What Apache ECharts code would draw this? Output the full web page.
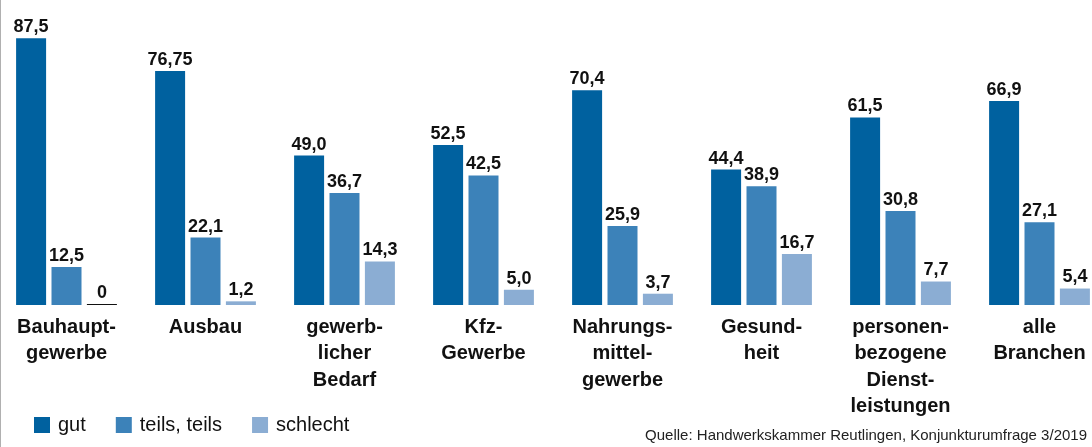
<!DOCTYPE html>
<html lang="de" style="height: 100%">
<head>
    <meta charset="utf-8">
    <title>Geschäftslage nach Branchen</title>
</head>
<body style="height: 100%; margin: 0; background: #fff">
    <div id="container" style="width:1092px;height:447px"></div>
    <script src="https://cdn.jsdelivr.net/npm/echarts@6/dist/echarts.min.js"></script>
    <script>
        // Daten
        var branchen = ['Bauhaupt-\ngewerbe', 'Ausbau', 'gewerb-\nlicher\nBedarf', 'Kfz-\nGewerbe',
            'Nahrungs-\nmittel-\ngewerbe', 'Gesund-\nheit', 'personen-\nbezogene\nDienst-\nleistungen', 'alle\nBranchen'];
        var gut = [87.5, 76.75, 49.0, 52.5, 70.4, 44.4, 61.5, 66.9];
        var teils = [12.5, 22.1, 36.7, 42.5, 25.9, 38.9, 30.8, 27.1];
        var schlecht = [0, 1.2, 14.3, 5.0, 3.7, 16.7, 7.7, 5.4];
        var quelle = 'Quelle: Handwerkskammer Reutlingen, Konjunkturumfrage 3/2019';

        var FONT = '"Liberation Sans", Arial, sans-serif';

        // Zahlen mit Komma wie im Original
        function fmt(p) {
            var v = p.value;
            if (v === 0) return '0';
            var s = (Math.round(v * 10) === v * 10) ? v.toFixed(1) : v.toFixed(2);
            return s.replace('.', ',');
        }

        var label = {
            show: true,
            position: 'top',
            distance: 2,
            formatter: fmt,
            color: '#111',
            fontFamily: FONT,
            fontWeight: 'bold',
            fontSize: 18
        };

        var dom = document.getElementById('container');
        var myChart = echarts.init(dom, null, { renderer: 'canvas' });

        var option = {
            animation: false,
            grid: { left: -3, width: 1112, top: 0, bottom: 142, outerBoundsMode: 'none' },
            legend: {
                left: 29,
                top: 410,
                icon: 'rect',
                itemWidth: 16,
                itemHeight: 16,
                itemGap: 30,
                textStyle: { fontFamily: FONT, fontSize: 20, color: '#111', padding: [0, 0, 0, 3] },
                data: ['gut', 'teils, teils', 'schlecht']
            },
            xAxis: {
                type: 'category',
                data: branchen,
                axisLine: { show: false },
                axisTick: { show: false },
                axisLabel: {
                    margin: 9,
                    interval: 0,
                    color: '#111',
                    fontFamily: FONT,
                    fontWeight: 'bold',
                    fontSize: 20,
                    lineHeight: 26.5
                }
            },
            yAxis: {
                type: 'value',
                min: 0,
                max: 100,
                show: false
            },
            series: [
                {
                    name: 'gut', type: 'bar', data: gut,
                    barWidth: 30, barGap: '18%',
                    itemStyle: { color: '#00619f' },
                    label: label
                },
                {
                    name: 'teils, teils', type: 'bar', data: teils,
                    barWidth: 30, barGap: '18%',
                    itemStyle: { color: '#3c82b9' },
                    label: label
                },
                {
                    name: 'schlecht', type: 'bar',
                    data: schlecht.map(function (v) {
                        // Nullwert als dünne schwarze Linie
                        return v === 0 ? { value: v, itemStyle: { color: '#111' } } : v;
                    }),
                    barWidth: 30, barGap: '18%', barMinHeight: 1,
                    itemStyle: { color: '#8badd3' },
                    label: label
                }
            ],
            graphic: [
                {
                    type: 'line',
                    shape: { x1: 0.5, y1: 0, x2: 0.5, y2: 447 },
                    style: { stroke: '#b0b0b0', lineWidth: 1 }
                },
                {
                    type: 'text',
                    right: 5,
                    top: 428,
                    style: {
                        text: quelle,
                        fontFamily: FONT,
                        fontSize: 15,
                        fill: '#222'
                    }
                }
            ]
        };

        myChart.setOption(option);
        window.addEventListener('resize', myChart.resize);
    </script>
</body>
</html>
